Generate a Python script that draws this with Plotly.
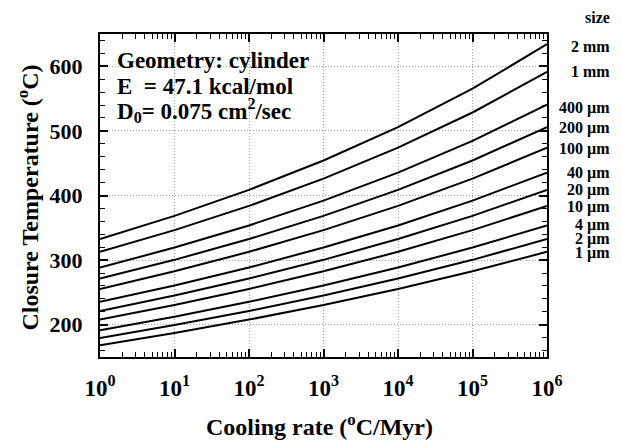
import plotly.graph_objects as go

# Cooling rates (°C/Myr)
rates = [1, 10, 100, 1000, 10000, 100000, 1000000]

size_labels = ["2 mm", "1 mm", "400 µm", "200 µm", "100 µm", "40 µm",
               "20 µm", "10 µm", "4 µm", "2 µm", "1 µm"]

# Closure temperature (°C) at each cooling rate, one list per grain size
tc_2mm = [332.5, 368.4, 408.7, 454.2, 505.9, 565.3, 634.2]
tc_1mm = [312.8, 346.4, 383.9, 426.1, 474.0, 528.5, 591.4]
tc_400um = [288.5, 319.4, 353.6, 392.1, 435.4, 484.5, 540.6]
tc_200um = [271.4, 300.4, 332.6, 368.5, 408.7, 454.2, 505.9]
tc_100um = [255.3, 282.6, 312.8, 346.4, 383.9, 426.1, 474.0]
tc_40um = [235.4, 260.7, 288.5, 319.4, 353.6, 392.1, 435.4]
tc_20um = [221.3, 245.2, 271.4, 300.4, 332.6, 368.5, 408.7]
tc_10um = [207.9, 230.5, 255.3, 282.6, 312.8, 346.4, 383.9]
tc_4um = [191.3, 212.4, 235.4, 260.7, 288.5, 319.4, 353.6]
tc_2um = [179.5, 199.5, 221.3, 245.2, 271.4, 300.4, 332.6]
tc_1um = [168.2, 187.2, 207.9, 230.5, 255.3, 282.6, 312.8]

series = [tc_2mm, tc_1mm, tc_400um, tc_200um, tc_100um, tc_40um,
          tc_20um, tc_10um, tc_4um, tc_2um, tc_1um]

x_tick_vals = [1, 10, 100, 1000, 10000, 100000, 1000000]
x_tick_text = ["10<sup>0</sup>", "10<sup>1</sup>", "10<sup>2</sup>", "10<sup>3</sup>",
               "10<sup>4</sup>", "10<sup>5</sup>", "10<sup>6</sup>"]
y_tick_vals = [200, 300, 400, 500, 600]

FONT = "Liberation Serif"

fig = go.Figure()
for vals in series:
    fig.add_trace(go.Scatter(x=rates, y=vals, mode="lines",
                             line=dict(color="black", width=2),
                             showlegend=False, hoverinfo="skip"))

minor_x = [m * 10 ** k for k in range(6) for m in range(2, 10)]

grid_style = dict(showgrid=True, gridcolor="#a0a0a0", griddash="1px,2px", gridwidth=1)

fig.update_xaxes(
    type="log", range=[0, 6],
    tickvals=x_tick_vals, ticktext=x_tick_text,
    ticks="inside", ticklen=8, tickwidth=1.5, tickcolor="black",
    showline=True, linewidth=2, linecolor="black", mirror="allticks",
    zeroline=False,
    tickfont=dict(family=FONT, size=23, color="black", weight="bold"),
    ticklabelstandoff=9,
    minor=dict(tickvals=minor_x, ticks="inside", ticklen=5, tickwidth=1,
               tickcolor="black", showgrid=False),
    **grid_style,
)
fig.update_yaxes(
    range=[150, 650],
    tickvals=y_tick_vals,
    ticks="inside", ticklen=8, tickwidth=1.5, tickcolor="black",
    showline=True, linewidth=2, linecolor="black", mirror="allticks",
    zeroline=False,
    tickfont=dict(family=FONT, size=22, color="black", weight="bold"),
    ticklabelstandoff=11,
    minor=dict(dtick=20, ticks="inside", ticklen=5, tickwidth=1,
               tickcolor="black", showgrid=False),
    **grid_style,
)

annotations = []
bold = dict(family=FONT, color="black", weight="bold")
# info text
for txt, yp in [("Geometry: cylinder", 0.918),
                 ("E  = 47.1 kcal/mol", 0.838),
                 ("D<sub>0</sub>= 0.075 cm<sup>2</sup>/sec", 0.762)]:
    annotations.append(dict(text=txt, xref="paper", yref="paper", x=0.034, y=yp,
                            xanchor="left", yanchor="middle", showarrow=False,
                            font=dict(size=23, **bold)))
# size labels at curve ends
label_shift = [-2, 0, -3, -1, -1, 0, 0, -1, 0, 0, -1]
annotations.append(dict(text="size", xref="paper", yref="paper", x=1.145, y=1.05,
                        xanchor="right", yanchor="middle", showarrow=False,
                        font=dict(size=16, **bold)))
for lab, vals, sh in zip(size_labels, series, label_shift):
    annotations.append(dict(text=lab, xref="paper", yref="y", x=1.145, y=vals[-1],
                            yshift=sh, xanchor="right", yanchor="middle",
                            showarrow=False, font=dict(size=16, **bold)))
# axis titles
annotations.append(dict(text="Closure Temperature (<sup>o</sup>C)", xref="paper",
                        yref="paper", x=-0.16, y=0.495, textangle=-90,
                        xanchor="center", yanchor="middle", showarrow=False,
                        font=dict(size=24, **bold)))
annotations.append(dict(text="Cooling rate (<sup>o</sup>C/Myr)", xref="paper",
                        yref="paper", x=0.49, y=-0.21,
                        xanchor="center", yanchor="middle", showarrow=False,
                        font=dict(size=24, **bold)))

fig.update_layout(
    width=622, height=442,
    margin=dict(l=100, r=75, t=34, b=85),
    paper_bgcolor="white", plot_bgcolor="white",
    annotations=annotations,
)

fig.write_html("out.html")
